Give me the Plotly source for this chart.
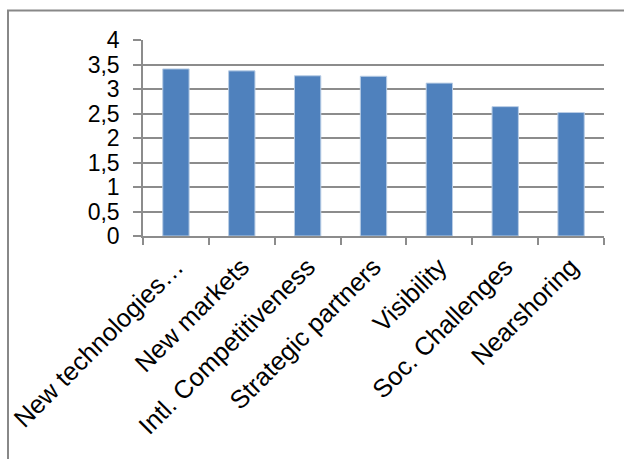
import plotly.graph_objects as go

categories = [
    "New technologies…",
    "New markets",
    "Intl. Competitiveness",
    "Strategic partners",
    "Visibility",
    "Soc. Challenges",
    "Nearshoring",
]
scores = [3.41, 3.37, 3.27, 3.26, 3.12, 2.64, 2.52]
y_ticks = [0, 0.5, 1, 1.5, 2, 2.5, 3, 3.5, 4]
y_tick_labels = ["0", "0,5", "1", "1,5", "2", "2,5", "3", "3,5", "4"]

font_family = "Liberation Sans, Arial, sans-serif"
axis_gray = "#8c8c8c"

fig = go.Figure(
    go.Bar(
        x=categories,
        y=scores,
        marker=dict(color="#4f81bd", line=dict(color="#b9cde5", width=1)),
    )
)

fig.update_layout(
    width=624,
    height=459,
    margin=dict(l=143, r=20, t=40, b=223),
    paper_bgcolor="white",
    plot_bgcolor="white",
    bargap=0.6,
    showlegend=False,
    font=dict(family=font_family, size=23, color="black"),
    shapes=[
        # outer chart frame (left and top edges visible)
        dict(
            type="rect",
            xref="paper",
            yref="paper",
            x0=(8 - 143) / 461,
            x1=(640 - 143) / 461,
            y0=(236 - 480) / 196,
            y1=(236 - 10.5) / 196,
            line=dict(color="#888888", width=2),
            fillcolor="rgba(0,0,0,0)",
            layer="below",
        )
    ],
)

fig.update_xaxes(
    type="category",
    automargin=False,
    tickangle=-45,
    tickson="boundaries",
    ticks="outside",
    ticklen=7,
    tickcolor=axis_gray,
    tickwidth=1.5,
    ticklabelstandoff=4,
    showline=True,
    linecolor=axis_gray,
    linewidth=1.5,
    showgrid=False,
    tickfont=dict(size=25.5, family=font_family),
)

fig.update_yaxes(
    automargin=False,
    range=[0, 4],
    tickvals=y_ticks,
    ticktext=y_tick_labels,
    ticks="outside",
    ticklen=8,
    tickcolor=axis_gray,
    tickwidth=1.5,
    ticklabelstandoff=9,
    showline=True,
    linecolor=axis_gray,
    linewidth=1.5,
    showgrid=True,
    gridcolor=axis_gray,
    gridwidth=1.5,
    zeroline=False,
    tickfont=dict(size=23, family=font_family),
)

fig.write_html("out.html")
